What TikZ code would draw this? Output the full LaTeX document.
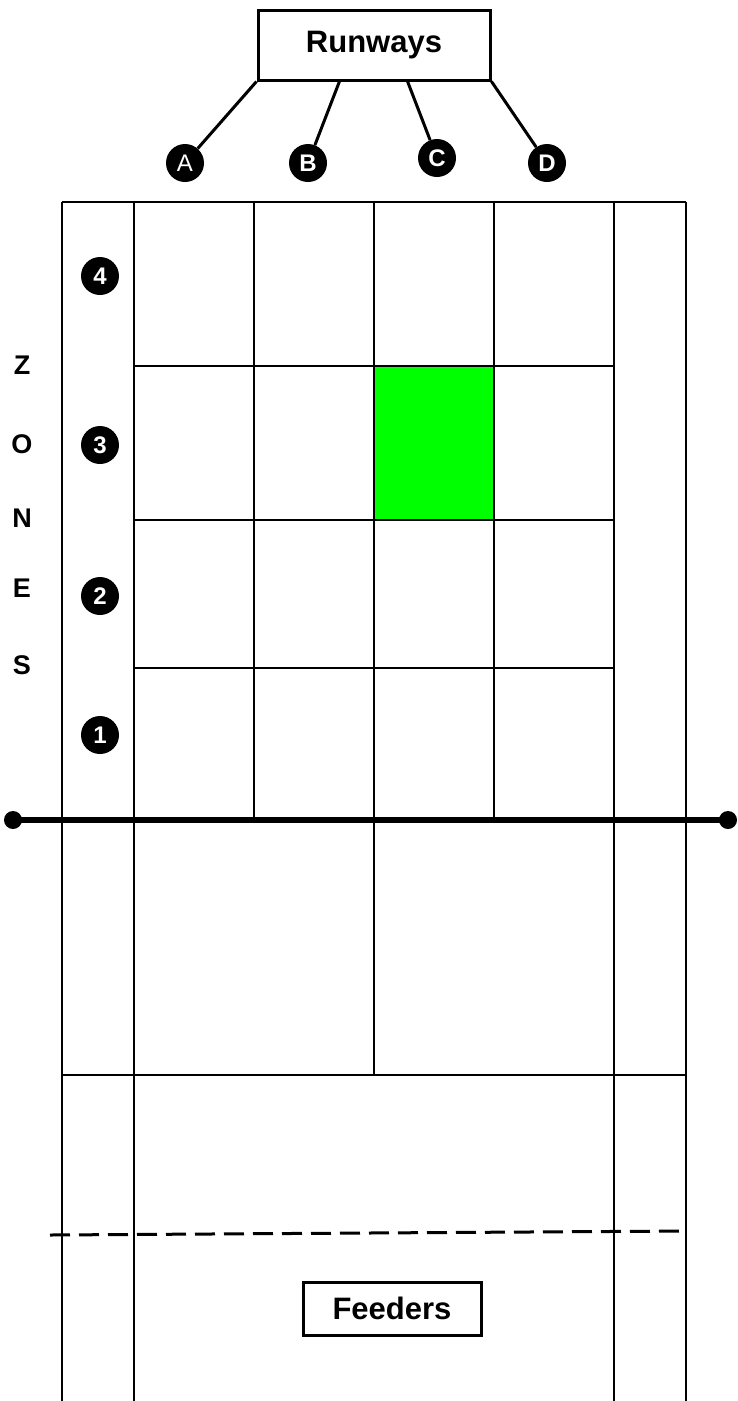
\documentclass[tikz,border=0pt]{standalone}
\usepackage{fontspec}
\setmainfont{Liberation Sans}
\begin{document}
\begin{tikzpicture}[x=1pt,y=-1pt,
  grid/.style={line width=2.6pt},
  lbox/.style={draw,line width=3pt,inner sep=0pt,font=\fontsize{31}{31}\selectfont\bfseries},
  badge/.style={circle,fill=black,text=white,inner sep=0pt,minimum size=38pt,font=\fontsize{24}{24}\selectfont\bfseries},
  zl/.style={font=\fontsize{27}{27}\selectfont\bfseries},
  conn/.style={line width=3pt},
  dotend/.style={circle,fill=black,inner sep=0pt,minimum size=18pt}]
\useasboundingbox (0,0) rectangle (737,1401);
\clip (0,0) rectangle (737,1401);
% green cell
\fill[green] (374,366) rectangle (494,520);
% grid lines
\draw[grid] (62,202) -- (62,1401);
\draw[grid] (686,202) -- (686,1401);
\draw[grid] (62,202) -- (686,202);
\draw[grid] (134,202) -- (134,1401);
\draw[grid] (614,202) -- (614,1401);
\draw[grid] (254,202) -- (254,820);
\draw[grid] (494,202) -- (494,820);
\draw[grid] (374,202) -- (374,1075);
\draw[grid] (134,366) -- (614,366);
\draw[grid] (134,520) -- (614,520);
\draw[grid] (134,668) -- (614,668);
\draw[grid] (62,1075) -- (686,1075);
% thick line
\node[dotend] (L) at (13,820) {};
\node[dotend] (R) at (728,820) {};
\draw[line width=5.5pt] (L.center) -- (R.center);
% dashed line
\coordinate (dl) at (50,1235);
\coordinate (dr) at (687,1231);
\draw[line width=3pt,dash pattern=on 20pt off 9pt] (dl) -- (dr);
% Runways
\node[lbox,minimum width=232pt,minimum height=70pt] (rw) at (374,45) {Runways};
\node[badge,font=\fontsize{24}{24}\selectfont] (A) at (185,163) {A};
\node[badge] (B) at (308,163) {B};
\node[badge] (C) at (437,158) {C};
\node[badge] (D) at (547,163) {D};
\coordinate (rwB) at (340,80);
\coordinate (rwC) at (407,80);
\draw[conn] (rw.south west) -- (A);
\draw[conn] (rwB) -- (B);
\draw[conn] (rwC) -- (C);
\draw[conn] (rw.south east) -- (D);
% zone badges
\node[badge] (z4) at (100,276) {4};
\node[badge] (z3) at (100,445) {3};
\node[badge] (z2) at (100,596) {2};
\node[badge] (z1) at (100,735) {1};
% ZONES
\node[zl] (tZ) at (22,365) {Z};
\node[zl] (tO) at (22,444) {O};
\node[zl] (tN) at (22,518) {N};
\node[zl] (tE) at (22,588) {E};
\node[zl] (tS) at (22,665) {S};
% Feeders
\node[lbox,fill=white,minimum width=178pt,minimum height=53pt] (fd) at (392,1308.5) {Feeders};
\end{tikzpicture}
\end{document}
